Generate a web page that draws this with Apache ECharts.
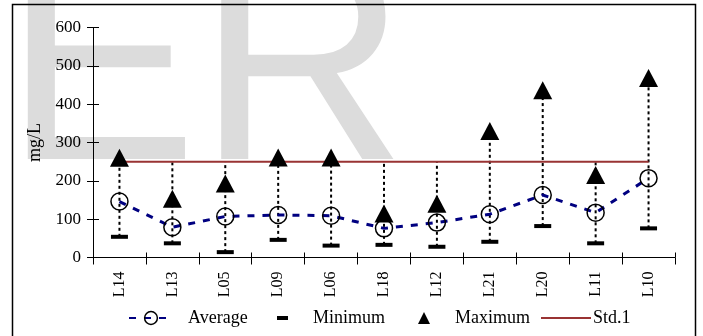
<!DOCTYPE html>
<html><head><meta charset="utf-8">
<script src="https://cdn.jsdelivr.net/npm/echarts@6/dist/echarts.min.js"></script>
<style>html,body{margin:0;padding:0;background:#fff}#c{width:703px;height:336px}</style>
</head><body><div id="c"></div>
<script>
const categories = ['L14','L13','L05','L09','L06','L18','L12','L21','L20','L11','L10'];
const average = [146, 79, 107, 111, 109, 76, 91, 113, 163, 117, 207];
const minimum = [54, 37, 14, 46, 31, 33, 28, 41, 82, 37, 76];
const maximum = [260, 153, 193, 261, 261, 115, 140, 330, 436, 215, 468];
const std1 = [250, 250, 250, 250, 250, 250, 250, 250, 250, 250, 250];
const yMin = 0, yMax = 600, yStep = 100;

const FONT = "'Liberation Serif', 'Times New Roman', serif";
const hiLo = categories.map((c, i) => [
  i,
  Math.min(minimum[i], average[i], maximum[i], std1[i]),
  Math.max(minimum[i], average[i], maximum[i], std1[i])
]);

const chart = echarts.init(document.getElementById('c'), null, {renderer: 'canvas'});
const legendText = {fontFamily: FONT, fontSize: 18, color: '#000', lineHeight: 16};
const LEG_TOP = 309;
chart.setOption({
  backgroundColor: '#fff',
  animation: false,
  graphic: [
    {type: 'text', z: -10, x: 4, y: 79, silent: true,
     style: {text: 'ER', font: '290px "Liberation Sans", Arial, sans-serif', fill: '#dcdcdc', verticalAlign: 'middle', align: 'left'}},
    {type: 'rect', z: 100, silent: true,
     shape: {x: 12.5, y: 4.5, width: 683, height: 345},
     style: {fill: 'none', stroke: '#000', lineWidth: 1.5}}
  ],
  grid: {left: 93, right: 28, top: 27.5, bottom: 78.5, containLabel: false},
  xAxis: [
    {type: 'category', data: categories, boundaryGap: true,
     axisLine: {show: true, lineStyle: {color: '#000', width: 1}},
     axisTick: {show: true, length: 7, lineStyle: {color: '#000'}},
     axisLabel: {rotate: 90, margin: 14, color: '#000', fontFamily: FONT, fontSize: 16},
     splitLine: {show: false}},
    {type: 'category', data: categories, boundaryGap: true, position: 'bottom',
     axisLine: {show: false},
     axisTick: {show: true, inside: true, length: 5, lineStyle: {color: '#000'}},
     axisLabel: {show: false}, splitLine: {show: false}}
  ],
  yAxis: [
    {type: 'value', min: yMin, max: yMax, interval: yStep, position: 'left',
     name: 'mg/L', nameLocation: 'middle', nameGap: 47,
     nameTextStyle: {fontFamily: FONT, fontSize: 18, color: '#000'},
     axisLine: {show: true, lineStyle: {color: '#000', width: 1}},
     axisTick: {show: true, length: 6, lineStyle: {color: '#000'}},
     axisLabel: {margin: 12, color: '#000', fontFamily: FONT, fontSize: 17},
     splitLine: {show: false}},
    {type: 'value', min: yMin, max: yMax, interval: yStep, position: 'left',
     axisLine: {show: false},
     axisTick: {show: true, inside: true, length: 6, lineStyle: {color: '#000'}},
     axisLabel: {show: false}, splitLine: {show: false}}
  ],
  legend: [
    {data: [{name: 'Average', itemStyle: {color: 'transparent', borderColor: '#000', borderWidth: 1.5}}],
     left: 128, top: LEG_TOP, padding: 0, itemWidth: 44, itemHeight: 16, selectedMode: false,
     textStyle: Object.assign({padding: [0, 0, 0, 10]}, legendText)},
    {data: [{name: 'Minimum', icon: 'rect'}],
     left: 277, top: LEG_TOP, padding: 0, itemWidth: 11, itemHeight: 4, selectedMode: false,
     textStyle: Object.assign({padding: [0, 0, 0, 20]}, legendText)},
    {data: [{name: 'Maximum', icon: 'triangle'}],
     left: 418, top: LEG_TOP, padding: 0, itemWidth: 12, itemHeight: 12, selectedMode: false,
     textStyle: Object.assign({padding: [0, 0, 0, 20]}, legendText)},
    {data: [{name: 'Std.1', itemStyle: {color: 'transparent', borderWidth: 0}}],
     left: 540, top: LEG_TOP, padding: 0, itemWidth: 50, itemHeight: 14, selectedMode: false,
     textStyle: Object.assign({padding: [0, 0, 0, -3]}, legendText)}
  ],
  series: [
    {type: 'custom', data: hiLo, encode: {x: 0, y: [1, 2]}, z: 1, silent: true,
     renderItem: function (params, api) {
       const lo = api.coord([api.value(0), api.value(1)]);
       const hi = api.coord([api.value(0), api.value(2)]);
       return {type: 'line', shape: {x1: lo[0], y1: lo[1], x2: hi[0], y2: hi[1]},
               style: {stroke: '#000', lineWidth: 2, lineDash: [3, 3]}};
     }},
    {name: 'Std.1', type: 'line', data: std1, symbol: 'none', z: 2,
     lineStyle: {color: '#993333', width: 2}, itemStyle: {color: '#993333'}},
    {name: 'Average', type: 'line', data: average, z: 3,
     symbol: 'circle', symbolSize: 17,
     lineStyle: {color: '#000080', width: 3, type: [7, 8]},
     itemStyle: {color: 'transparent', borderColor: '#000', borderWidth: 1.5}},
    {name: 'Minimum', type: 'scatter', data: minimum, z: 4,
     symbol: 'rect', symbolSize: [17, 4], itemStyle: {color: '#000', opacity: 1}},
    {name: 'Maximum', type: 'scatter', data: maximum, z: 4,
     symbol: 'triangle', symbolSize: [19, 18], itemStyle: {color: '#000', opacity: 1}}
  ]
});
</script>
</body></html>
